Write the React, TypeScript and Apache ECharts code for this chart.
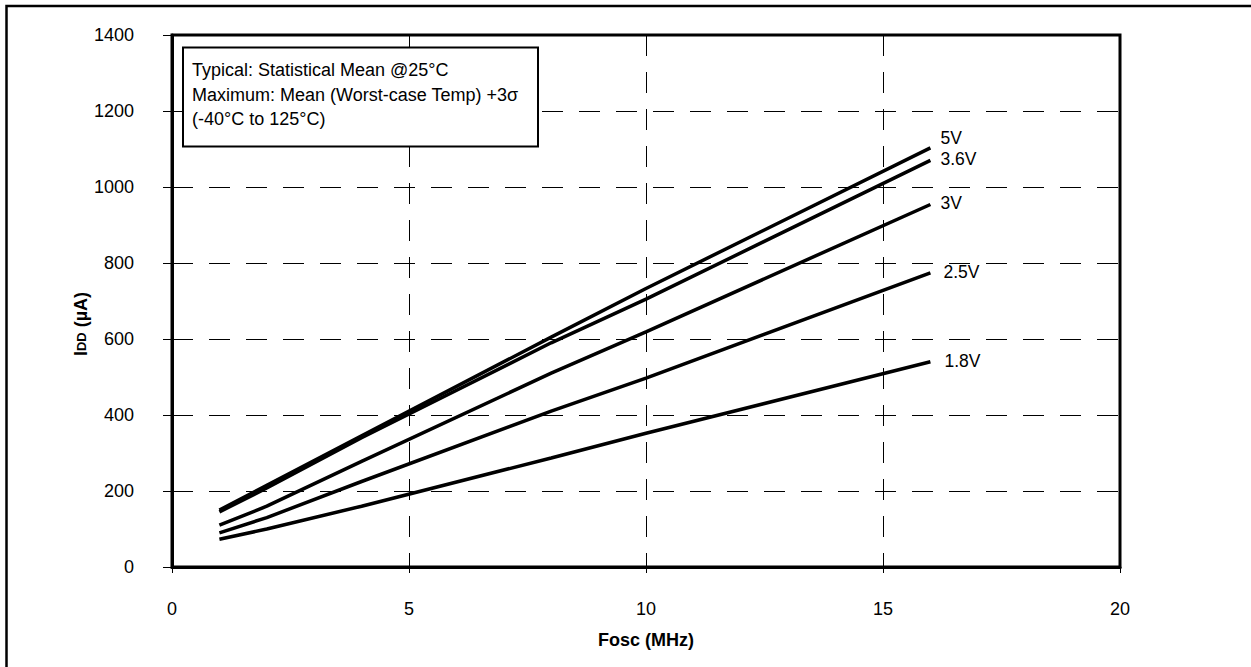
import React, { useEffect, useRef } from "react";
import * as echarts from "echarts";

const freqMHz = [1, 2, 4, 8, 10, 16];
const idd18V = [73, 100, 160, 287, 352, 540];
const idd25V = [90, 130, 225, 410, 497, 774];
const idd30V = [110, 160, 278, 510, 619, 954];
const idd36V = [145, 208, 340, 590, 705, 1070];
const idd50V = [150, 215, 345, 605, 733, 1103];

const seriesNames = ["5V", "3.6V", "3V", "2.5V", "1.8V"];
const seriesValues = [idd50V, idd36V, idd30V, idd25V, idd18V];
const labelOffsets: [number, number][] = [[0, -10], [0, -1], [0, -1], [3, -1], [4, -1]];

const noteLines = [
  "Typical: Statistical Mean @25°C",
  "Maximum: Mean (Worst-case Temp) +3σ",
  "(-40°C to 125°C)",
];

const FONT = '"Liberation Sans", Arial, sans-serif';

export default function App() {
  const ref = useRef<HTMLDivElement>(null);
  useEffect(() => {
    if (!ref.current) return;
    const chart = echarts.init(ref.current, null, { renderer: "svg" });
    const gridLine = { color: "#000", width: 1, type: [21, 16] as any };
    chart.setOption({
      animation: false,
      backgroundColor: "#fff",
      textStyle: { fontFamily: FONT },
      grid: {
        left: 172,
        right: 131,
        top: 35,
        bottom: 100,
        show: true,
        borderColor: "#000",
        borderWidth: 3,
        backgroundColor: "transparent",
      },
      xAxis: {
        type: "value",
        min: 0,
        max: 20,
        interval: 5,
        axisLine: { show: true, onZero: false, lineStyle: { color: "#000", width: 3 } },
        axisTick: { show: true, length: 6, lineStyle: { color: "#000", width: 1 } },
        axisLabel: {
          color: "#000",
          fontSize: 18,
          fontFamily: FONT,
          margin: 33,
          formatter: (v: number) => String(v),
        },
        splitLine: { show: true, lineStyle: gridLine },
      },
      yAxis: {
        type: "value",
        min: 0,
        max: 1400,
        interval: 200,
        axisLine: { show: true, onZero: false, lineStyle: { color: "#000", width: 3 } },
        axisTick: { show: true, length: 9, lineStyle: { color: "#000", width: 1 } },
        axisLabel: {
          color: "#000",
          fontSize: 18,
          fontFamily: FONT,
          margin: 38,
          padding: [8, 0, 0, 0],
          formatter: (v: number) => String(v),
        },
        splitLine: { show: true, lineStyle: gridLine },
      },
      series: seriesNames.map((name, i) => ({
        name,
        type: "line",
        data: freqMHz.map((f, j) => [f, seriesValues[i][j]]),
        showSymbol: false,
        symbol: "none",
        lineStyle: { color: "#000", width: 3.5 },
        z: 5,
        endLabel: {
          show: true,
          formatter: "{a}",
          color: "#000",
          fontSize: 17.5,
          fontFamily: FONT,
          distance: 10,
          offset: labelOffsets[i],
        },
      })),
      graphic: [
        {
          type: "rect",
          z: 0,
          silent: true,
          shape: { x: 6.5, y: 6, width: 1300, height: 700 },
          style: { fill: "none", stroke: "#000", lineWidth: 2.5 },
        },
        {
          type: "rect",
          z: 100,
          silent: true,
          shape: { x: 183, y: 47.5, width: 355, height: 99 },
          style: { fill: "#fff", stroke: "#000", lineWidth: 2 },
        },
        ...noteLines.map((t, i) => ({
          type: "text",
          z: 101,
          silent: true,
          x: 192,
          y: 70 + i * 24.5,
          style: {
            text: t,
            fill: "#000",
            fontSize: 18,
            fontFamily: FONT,
            align: "left",
            verticalAlign: "middle",
          },
        })),
        {
          type: "text",
          z: 101,
          silent: true,
          x: 81,
          y: 324,
          rotation: Math.PI / 2,
          style: {
            text: "{b|I}{s|DD}{b| (µA)}",
            align: "center",
            verticalAlign: "middle",
            rich: {
              b: { fontSize: 18, fontWeight: "bold", fontFamily: FONT, fill: "#000", color: "#000" },
              s: { fontSize: 13, fontWeight: "bold", fontFamily: FONT, fill: "#000", color: "#000" },
            },
          },
        },
        {
          type: "text",
          z: 101,
          silent: true,
          x: 646,
          y: 640,
          style: {
            text: "Fosc (MHz)",
            fill: "#000",
            fontSize: 18,
            fontWeight: "bold",
            fontFamily: FONT,
            align: "center",
            verticalAlign: "middle",
          },
        },
      ],
    });
    return () => chart.dispose();
  }, []);
  return (
    <div
      ref={ref}
      style={{ position: "fixed", left: 0, top: 0, width: 1251, height: 667, background: "#fff" }}
    />
  );
}
